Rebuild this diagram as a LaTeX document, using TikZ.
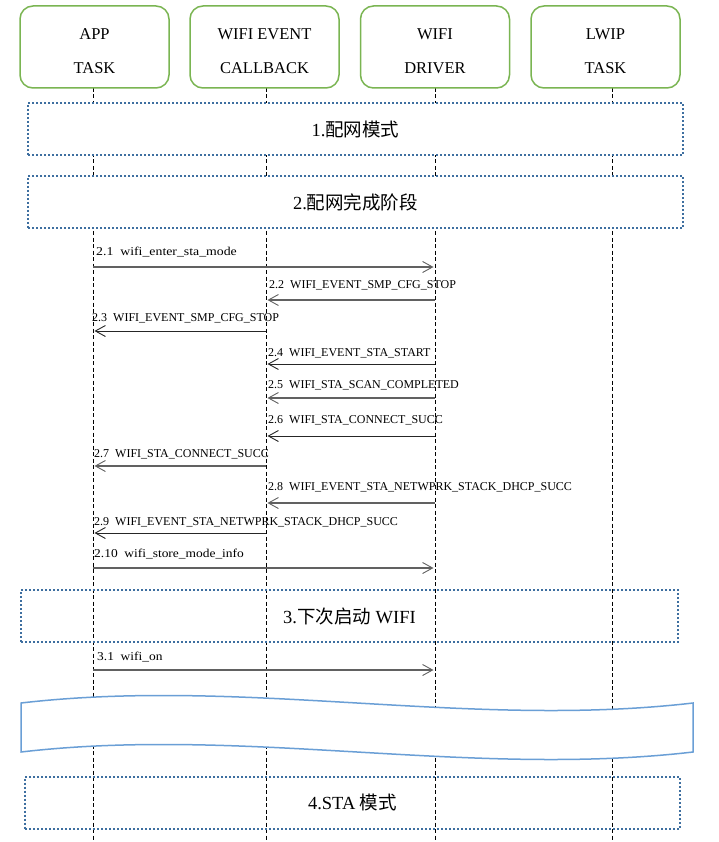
\documentclass[tikz,border=0pt]{standalone}
\usepackage{fontspec}
\usepackage{graphicx}
\setmainfont{Liberation Serif}
\newfontfamily\cjk{Noto Sans CJK SC}
\usetikzlibrary{arrows.meta}
\definecolor{hdrgreen}{HTML}{7AB552}
\definecolor{dotblue}{HTML}{3E6FA0}
\definecolor{waveblue}{HTML}{6A9FD6}
\begin{document}
\begin{tikzpicture}[x=1pt,y=-1pt,
  hdr/.style={draw=hdrgreen, line width=1.5pt, rounded corners=13pt, fill=white,
    minimum width=149pt, minimum height=82pt, inner sep=0pt},
  hdrtxt/.style={font=\fontsize{16.5}{18}\selectfont, inner sep=0pt},
  phase/.style={draw=dotblue, line width=2pt, dash pattern=on 2pt off 2pt,
    minimum height=52pt, inner sep=0pt, font=\fontsize{18.5}{20}\selectfont},
  life/.style={draw=black, line width=0.8pt, dash pattern=on 4pt off 2.5pt},
  msg/.style={draw=black!85, line width=0.8pt, shorten >=1.5pt,
    -{Straight Barb[length=10pt,width=11pt,line width=0.9pt]}},
  msgg/.style={msg, draw=black!62, line width=1.5pt},
  lbl/.style={anchor=west, inner sep=0pt, font=\fontsize{12}{14}\selectfont},
  wave/.style={draw=waveblue, line width=1.5pt, fill=white}
]
\useasboundingbox (0,0) rectangle (719,842);
\fill[white] (0,0) rectangle (719,842);

% lifelines
\coordinate (aT) at (93,88);  \coordinate (aB) at (93,842);
\coordinate (bT) at (266,88); \coordinate (bB) at (266,842);
\coordinate (cT) at (435,88); \coordinate (cB) at (435,842);
\coordinate (dT) at (612,88); \coordinate (dB) at (612,842);
\draw[life] (aT) -- (aB);
\draw[life] (bT) -- (bB);
\draw[life] (cT) -- (cB);
\draw[life] (dT) -- (dB);

% headers
\node[hdr] (h1) at (94.5,47) {};
\node[hdr] (h2) at (264.5,47) {};
\node[hdr] (h3) at (435,47) {};
\node[hdr] (h4) at (605.5,47) {};
\node[hdrtxt] (h1a) at (94.5,34) {APP};
\node[hdrtxt] (h1b) at (94.5,68) {TASK};
\node[hdrtxt] (h2a) at (264.5,34) {WIFI EVENT};
\node[hdrtxt] (h2b) at (264.5,68) {CALLBACK};
\node[hdrtxt] (h3a) at (435,34) {WIFI};
\node[hdrtxt] (h3b) at (435,68) {DRIVER};
\node[hdrtxt] (h4a) at (605.5,34) {LWIP};
\node[hdrtxt] (h4b) at (605.5,68) {TASK};

% phase boxes
\node[phase, fill=white, minimum width=655pt] (p1) at (355.5,129) {1.{\cjk 配网模式}};
\node[phase, fill=white, minimum width=655pt] (p2) at (355.5,202) {2.{\cjk 配网完成阶段}};
\node[phase, minimum width=657pt] (p3) at (349.5,616) {3.{\cjk 下次启动} WIFI};
\node[phase, minimum width=655pt] (p4) at (352.5,802.5) {4.STA {\cjk 模式}};

% message coordinates
\foreach \n/\y in {21/267,22/300,23/331,24/364,25/398,26/436,27/466,28/503,29/533,210/568,31/670}{
  \coordinate (a\n) at (93,\y);
  \coordinate (b\n) at (266,\y);
  \coordinate (c\n) at (435,\y);
}

\draw[msgg] (a21) -- (c21);
\node[lbl] (t21) at (96,252) {\scalebox{1.15}[1]{2.1\ \ wifi\_enter\_sta\_mode}};
\draw[msgg] (c22) -- (b22);
\node[lbl] (t22) at (269,285) {2.2\ \ WIFI\_EVENT\_SMP\_CFG\_STOP};
\draw[msg] (b23) -- (a23);
\node[lbl] (t23) at (92,318) {2.3\ \ WIFI\_EVENT\_SMP\_CFG\_STOP};
\draw[msg] (c24) -- (b24);
\node[lbl] (t24) at (268,353) {2.4\ \ WIFI\_EVENT\_STA\_START};
\draw[msgg] (c25) -- (b25);
\node[lbl] (t25) at (268,385) {2.5\ \ WIFI\_STA\_SCAN\_COMPLETED};
\draw[msg] (c26) -- (b26);
\node[lbl] (t26) at (268,420) {2.6\ \ WIFI\_STA\_CONNECT\_SUCC};
\draw[msgg] (b27) -- (a27);
\node[lbl] (t27) at (94,454) {2.7\ \ WIFI\_STA\_CONNECT\_SUCC};
\draw[msgg] (c28) -- (b28);
\node[lbl] (t28) at (268,487) {2.8\ \ WIFI\_EVENT\_STA\_NETWPRK\_STACK\_DHCP\_SUCC};
\draw[msg] (b29) -- (a29);
\node[lbl] (t29) at (94,522) {2.9\ \ WIFI\_EVENT\_STA\_NETWPRK\_STACK\_DHCP\_SUCC};
\draw[msgg] (a210) -- (c210);
\node[lbl] (t210) at (94,554) {\scalebox{1.12}[1]{2.10\ \ wifi\_store\_mode\_info}};
\draw[msgg] (a31) -- (c31);
\node[lbl] (t31) at (97,657) {\scalebox{1.12}[1]{3.1\ \ wifi\_on}};

% wave banner
\draw[wave] (21,703) .. controls (245,677) and (469,729) .. (693,703)
  -- (693,752) .. controls (469,778) and (245,726) .. (21,752) -- cycle;
\end{tikzpicture}
\end{document}
